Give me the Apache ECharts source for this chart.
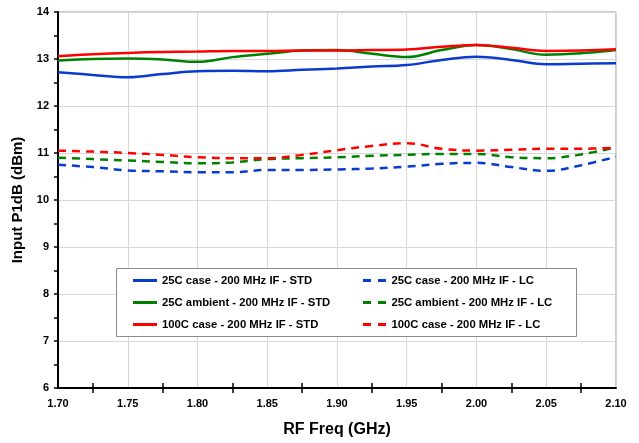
<!DOCTYPE html>
<html>
<head>
<meta charset="utf-8">
<script src="https://cdn.jsdelivr.net/npm/echarts@6/dist/echarts.min.js"></script>
<style>html,body{margin:0;padding:0;background:#fff}#c{width:639px;height:443px}</style>
</head>
<body>
<div id="c"></div>
<script>
const freqs = [1.700,1.725,1.750,1.775,1.800,1.825,1.850,1.875,1.900,1.925,1.950,1.975,2.000,2.025,2.050,2.075,2.100];
const caseStd25    = [12.72,12.66,12.61,12.68,12.74,12.75,12.74,12.77,12.80,12.84,12.87,12.98,13.05,12.98,12.89,12.90,12.91];
const ambientStd25 = [12.97,13.00,13.01,12.99,12.94,13.04,13.11,13.18,13.19,13.11,13.04,13.19,13.30,13.21,13.09,13.12,13.19];
const caseStd100   = [13.06,13.10,13.13,13.15,13.16,13.17,13.17,13.18,13.18,13.19,13.20,13.26,13.30,13.24,13.17,13.18,13.21];
const caseLc25     = [10.75,10.70,10.63,10.61,10.59,10.59,10.64,10.64,10.65,10.67,10.71,10.77,10.79,10.70,10.62,10.74,10.92];
const ambientLc25  = [10.90,10.87,10.84,10.81,10.78,10.80,10.87,10.89,10.91,10.94,10.96,10.98,10.98,10.91,10.89,10.97,11.12];
const caseLc100    = [11.05,11.03,11.00,10.96,10.91,10.89,10.89,10.96,11.06,11.15,11.21,11.09,11.05,11.07,11.09,11.09,11.11];
const seriesNames = [
  '25C case - 200 MHz IF - STD','25C ambient - 200 MHz IF - STD','100C case - 200 MHz IF - STD',
  '25C case - 200 MHz IF - LC','25C ambient - 200 MHz IF - LC','100C case - 200 MHz IF - LC'
];
const seriesData = [caseStd25, ambientStd25, caseStd100, caseLc25, ambientLc25, caseLc100];
const colors = ['#0a3bd0','#008000','#ff0000','#0a3bd0','#008000','#ff0000'];

const chart = echarts.init(document.getElementById('c'));
const font = 'Liberation Sans, Arial, sans-serif';
const series = seriesData.map((d, i) => ({
  name: seriesNames[i],
  type: 'line',
  smooth: 0.4,
  symbol: 'none',
  data: d.map((v, j) => [freqs[j], v]),
  lineStyle: { color: colors[i], width: 2.5, type: i < 3 ? 'solid' : [8, 6] },
  itemStyle: { color: colors[i] },
  z: 3
}));
const solidIcon = 'path://M0,0H24V3H0Z';
const dashIcon = 'path://M0,0H8V3H0Z M15,0H23V3H15Z';
const legendCommon = {
  orient: 'vertical', top: 270, itemWidth: 24, itemHeight: 3, itemGap: 11,
  textStyle: { fontFamily: font, fontWeight: 'bold', fontSize: 11.3, color: '#000' },
  z: 10
};
chart.setOption({
  animation: false,
  grid: { left: 58, right: 23, top: 12, bottom: 55, show: true, borderColor: '#9a9a9a', borderWidth: 1 },
  xAxis: [{
    type: 'value', min: 1.7, max: 2.1, interval: 0.05,
    name: 'RF Freq (GHz)', nameLocation: 'middle', nameGap: 34,
    nameTextStyle: { fontFamily: font, fontWeight: 'bold', fontSize: 16, color: '#000' },
    axisLine: { lineStyle: { color: '#000', width: 2 } },
    axisTick: { show: false },
    minorTick: { show: true, splitNumber: 2, length: 5, lineStyle: { color: '#000', width: 1.5 } },
    axisLabel: { formatter: v => v.toFixed(2), fontFamily: font, fontWeight: 'bold', fontSize: 11, color: '#000', margin: 10 },
    splitLine: { show: true, lineStyle: { color: '#d8d8d8', width: 1 } }
  }, {
    type: 'value', min: 1.7, max: 2.1, interval: 0.05, position: 'bottom', offset: -5,
    axisLine: { show: false }, axisLabel: { show: false }, splitLine: { show: false },
    axisTick: { show: false },
    minorTick: { show: true, splitNumber: 2, length: 5, lineStyle: { color: '#000', width: 1.5 } }
  }],
  yAxis: {
    type: 'value', min: 6, max: 14, interval: 1,
    name: 'Input P1dB (dBm)', nameLocation: 'middle', nameGap: 33,
    nameTextStyle: { fontFamily: font, fontWeight: 'bold', fontSize: 15, color: '#000' },
    axisLine: { show: true, lineStyle: { color: '#000', width: 2 } },
    axisTick: { show: true, length: 4, lineStyle: { color: '#000', width: 1.5 } },
    minorTick: { show: true, splitNumber: 2, length: 4, lineStyle: { color: '#000', width: 1.5 } },
    axisLabel: { fontFamily: font, fontWeight: 'bold', fontSize: 11, color: '#000', margin: 9 },
    splitLine: { show: true, lineStyle: { color: '#d8d8d8', width: 1 } }
  },
  legend: [
    Object.assign({}, legendCommon, { left: 128, data: seriesNames.slice(0, 3).map(n => ({ name: n, icon: solidIcon })) }),
    Object.assign({}, legendCommon, { left: 358, data: seriesNames.slice(3).map(n => ({ name: n, icon: dashIcon })) })
  ],
  graphic: [{
    type: 'rect', z: 9, shape: { x: 116.5, y: 268.5, width: 460, height: 68 },
    style: { fill: '#fff', stroke: '#8a8a8a', lineWidth: 1 }
  }],
  series: series
});
</script>
</body>
</html>
